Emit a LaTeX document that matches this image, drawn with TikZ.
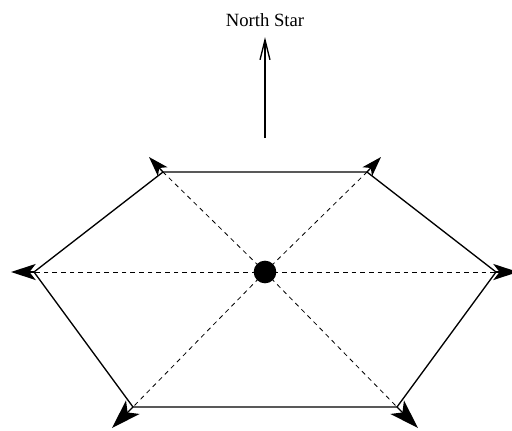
\documentclass[tikz,border=0pt]{standalone}
\usepackage{fontspec}
\setmainfont{Liberation Serif}
\usetikzlibrary{arrows.meta}
\begin{document}
\begin{tikzpicture}[x=0.75pt,y=-0.75pt,
  edge/.style={line width=1pt, line join=miter},
  diag/.style={line width=0.6pt, dash pattern=on 3.5pt off 3pt},
  vel/.style={line width=1pt, -{Stealth[length=#1, width'=0pt 0.65, inset'=0pt 0.25]}},
  north/.style={line width=1pt, -{Straight Barb[length=15pt, width=7.5pt]}},
  lbl/.style={font=\fontsize{14}{16}\selectfont, inner sep=0pt, anchor=base}]
\useasboundingbox (0,0) rectangle (512,430);
% vertices
\coordinate (TL) at (163,172);
\coordinate (TR) at (367,172);
\coordinate (R) at (496,272);
\coordinate (BR) at (397,407);
\coordinate (BL) at (133,407);
\coordinate (L) at (34,272);
% arrow tips
\coordinate (tTL) at (149,157);
\coordinate (tTR) at (381,157);
\coordinate (tR) at (518,272);
\coordinate (tBR) at (418,428);
\coordinate (tBL) at (112,428);
\coordinate (tL) at (11,272);
% dashed diagonals
\node[circle, fill, inner sep=0pt, minimum size=17pt] (C) at (265,272) {};
\foreach \v in {TL,TR,R,BR,BL,L} \draw[diag] (C.center) -- (\v);
% hexagon
\draw[edge] (TL) -- (TR) -- (R) -- (BR) -- (BL) -- (L) -- cycle;
% velocity arrows
\draw[vel=15pt] (TL) -- (tTL);
\draw[vel=15pt] (TR) -- (tTR);
\draw[vel=18.5pt] (L) -- (tL);
\draw[vel=18.5pt] (R) -- (tR);
\draw[vel=22pt] (BL) -- (tBL);
\draw[vel=22pt] (BR) -- (tBR);
% north star
\node[lbl] (NS) at (265,26) {North Star};
\coordinate (NB) at (265,138);
\coordinate (NT) at (265,37);
\draw[north] (NB) -- (NT);
\end{tikzpicture}
\end{document}
